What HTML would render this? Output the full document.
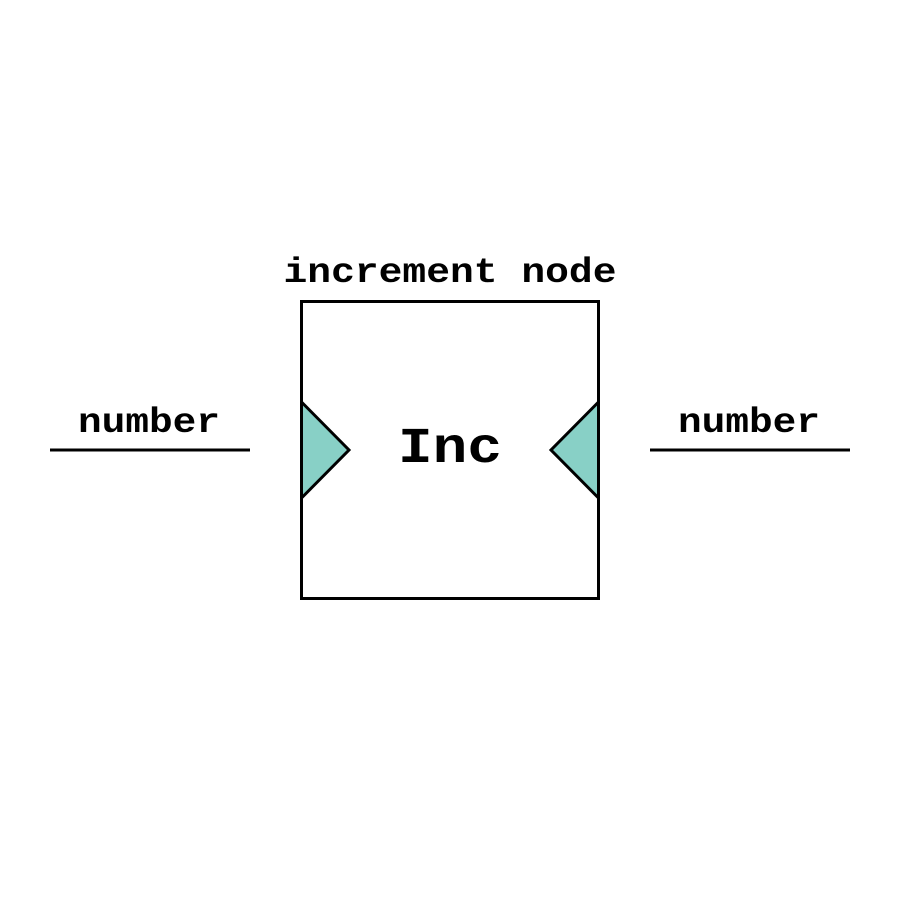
<!DOCTYPE html>
<html><head><style>html,body{margin:0;padding:0;background:#fff}</style></head>
<body>
<svg width="900" height="900" xmlns="http://www.w3.org/2000/svg">
<rect width="900" height="900" fill="#fff"/>
<rect x="301.5" y="301.5" width="297" height="297" fill="#fff" stroke="#000" stroke-width="3"/>
<polygon points="301.5,402 349,450 301.5,498" fill="#88d0c6" stroke="#000" stroke-width="3" stroke-linejoin="miter"/>
<polygon points="598.5,402 551,450 598.5,498" fill="#88d0c6" stroke="#000" stroke-width="3"/>
<line x1="50" y1="450" x2="250" y2="450" stroke="#000" stroke-width="3"/>
<line x1="650" y1="450" x2="850" y2="450" stroke="#000" stroke-width="3"/>
<g font-family="Liberation Mono, monospace" font-weight="bold" text-anchor="middle" fill="#000">
<text x="450" y="282" font-size="35" textLength="333" lengthAdjust="spacingAndGlyphs">increment node</text>
<text x="149" y="432" font-size="35" textLength="142" lengthAdjust="spacingAndGlyphs">number</text>
<text x="749" y="432" font-size="35" textLength="142" lengthAdjust="spacingAndGlyphs">number</text>
<text x="450" y="462" font-size="50" textLength="104" lengthAdjust="spacingAndGlyphs">Inc</text>
</g>
</svg>
</body></html>
